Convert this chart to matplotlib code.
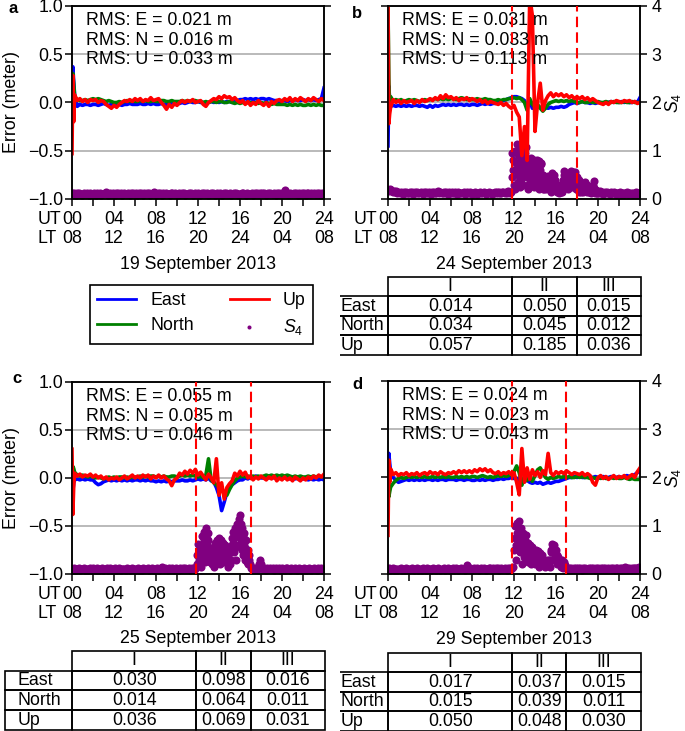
import numpy as np
import matplotlib.pyplot as plt
from matplotlib.table import Table

plt.rcParams['font.family'] = ['Liberation Sans', 'DejaVu Sans']
plt.rcParams['font.size'] = 12.8
plt.rcParams['mathtext.fontset'] = 'custom'
plt.rcParams['mathtext.rm'] = 'Liberation Sans'
plt.rcParams['mathtext.it'] = 'Liberation Sans:italic'

# sampling times (hours UT): finer at the start where the solution converges
t_err = np.concatenate(([0.0, 0.08, 0.16], np.arange(1, 97) * 0.25))
t_s4 = np.arange(241) * 0.1

ut_labels = ['00', '04', '08', '12', '16', '20', '24']
lt_labels = ['08', '12', '16', '20', '24', '04', '08']
row_names = ['East', 'North', 'Up']
col_names = ['I', 'II', 'III']

# ---- 19 September 2013 ----
east_a = [0.05, 0.37, 0.22,
          0.08, -0.04, -0.02, -0.03, -0.02, -0.02, -0.03, -0.02,
          -0.02, -0.03, -0.02, -0.01, -0.02, -0.03, -0.02, -0.02,
          -0.03, -0.02, -0.03, -0.02, -0.02, -0.01, -0.02, -0.02,
          -0.02, -0.01, -0.02, -0.02, -0.01, -0.02, -0.01, -0.02,
          -0.02, -0.01, -0.02, -0.02, -0.01, -0.01, -0.02, -0.01,
          -0.01, 0.00, -0.01, 0.00, 0.01, 0.00, 0.00, 0.01,
          0.00, 0.00, -0.01, 0.00, 0.01, 0.00, 0.01, 0.00,
          0.01, 0.00, 0.01, 0.01, 0.00, 0.01, 0.02, 0.03,
          0.03, 0.04, 0.03, 0.04, 0.03, 0.04, 0.03, 0.04,
          0.04, 0.03, 0.04, 0.03, 0.02, 0.02, 0.01, 0.02,
          0.02, 0.01, 0.02, 0.02, 0.03, 0.02, 0.02, 0.03,
          0.02, 0.03, 0.02, 0.03, 0.02, 0.03, 0.04, 0.15]
north_a = [0.10, 0.30, 0.20,
           0.06, 0.03, 0.02, 0.02, 0.03, 0.02, 0.03, 0.04,
           0.03, 0.04, 0.03, 0.02, 0.01, 0.02, 0.01, 0.00,
           0.00, 0.01, 0.00, 0.01, 0.02, 0.01, 0.02, 0.01,
           0.01, 0.02, 0.01, 0.02, 0.01, 0.01, 0.02, 0.01,
           0.01, 0.02, 0.02, 0.01, 0.01, 0.02, 0.01, 0.01,
           0.01, 0.02, 0.01, 0.02, 0.01, 0.02, 0.02, 0.01,
           0.01, 0.00, 0.01, 0.00, 0.01, 0.01, 0.00, 0.01,
           0.01, 0.00, 0.00, 0.01, 0.00, -0.01, 0.00, -0.01,
           0.00, -0.01, 0.00, 0.00, -0.01, 0.00, -0.01, 0.00,
           -0.01, 0.00, -0.01, -0.02, -0.01, -0.02, -0.02, -0.02,
           -0.02, -0.03, -0.02, -0.03, -0.02, -0.03, -0.02, -0.03,
           -0.03, -0.02, -0.03, -0.02, -0.03, -0.02, -0.03, -0.03]
up_a = [-0.53, 0.28, -0.20,
        0.08, 0.02, 0.04, 0.01, 0.03, 0.00, 0.03, 0.02,
        0.03, 0.00, 0.02, 0.01, -0.02, -0.04, -0.06, -0.03,
        -0.05, -0.02, 0.00, 0.02, 0.01, 0.03, 0.01, 0.04,
        0.02, 0.04, 0.01, 0.03, 0.02, 0.05, 0.02, 0.03,
        0.04, 0.00, -0.03, -0.07, -0.02, -0.05, -0.01, -0.03,
        0.00, 0.02, 0.00, 0.02, 0.01, 0.03, 0.00, 0.01,
        0.02, -0.02, -0.04, 0.00, 0.02, 0.04, 0.03, 0.06,
        0.04, 0.07, 0.05, 0.06, 0.03, 0.05, 0.02, 0.00,
        0.02, -0.02, 0.01, -0.03, 0.00, -0.02, 0.02, -0.01,
        -0.03, 0.00, -0.04, 0.01, -0.01, 0.02, 0.03, 0.01,
        0.04, 0.02, 0.05, 0.01, 0.04, 0.02, 0.05, 0.03,
        0.01, 0.04, 0.02, 0.05, 0.03, 0.01, 0.04, 0.02]
s4_a = [0.12, 0.10, 0.13, 0.11, 0.09, 0.12, 0.10, 0.13, 0.11, 0.10,
        0.09, 0.12, 0.10, 0.11, 0.13, 0.10, 0.08, 0.12, 0.11, 0.10,
        0.11, 0.13, 0.10, 0.09, 0.12, 0.11, 0.10, 0.13, 0.09, 0.11,
        0.10, 0.12, 0.14, 0.11, 0.09, 0.10, 0.12, 0.11, 0.10, 0.13,
        0.11, 0.09, 0.12, 0.10, 0.13, 0.11, 0.10, 0.12, 0.09, 0.11,
        0.12, 0.10, 0.11, 0.13, 0.10, 0.09, 0.12, 0.11, 0.13, 0.10,
        0.10, 0.12, 0.09, 0.11, 0.12, 0.10, 0.13, 0.11, 0.09, 0.12,
        0.11, 0.13, 0.10, 0.12, 0.09, 0.11, 0.10, 0.12, 0.14, 0.10,
        0.09, 0.11, 0.12, 0.10, 0.13, 0.11, 0.09, 0.12, 0.10, 0.11,
        0.12, 0.10, 0.11, 0.09, 0.12, 0.13, 0.10, 0.11, 0.12, 0.10,
        0.11, 0.09, 0.12, 0.10, 0.11, 0.13, 0.10, 0.12, 0.09, 0.11,
        0.10, 0.12, 0.11, 0.13, 0.10, 0.09, 0.11, 0.12, 0.10, 0.11,
        0.12, 0.10, 0.09, 0.11, 0.12, 0.10, 0.13, 0.11, 0.10, 0.12,
        0.09, 0.11, 0.13, 0.10, 0.12, 0.11, 0.09, 0.10, 0.12, 0.11,
        0.10, 0.12, 0.11, 0.09, 0.11, 0.13, 0.10, 0.12, 0.11, 0.10,
        0.12, 0.09, 0.11, 0.10, 0.12, 0.11, 0.13, 0.10, 0.09, 0.11,
        0.11, 0.10, 0.12, 0.13, 0.10, 0.11, 0.09, 0.12, 0.10, 0.11,
        0.10, 0.12, 0.09, 0.11, 0.13, 0.10, 0.12, 0.11, 0.10, 0.12,
        0.11, 0.13, 0.10, 0.12, 0.11, 0.09, 0.11, 0.12, 0.10, 0.13,
        0.10, 0.11, 0.12, 0.10, 0.09, 0.12, 0.11, 0.13, 0.10, 0.11,
        0.12, 0.10, 0.13, 0.19, 0.11, 0.12, 0.10, 0.11, 0.13, 0.10,
        0.11, 0.12, 0.10, 0.13, 0.11, 0.09, 0.12, 0.10, 0.11, 0.13,
        0.10, 0.12, 0.11, 0.09, 0.12, 0.13, 0.10, 0.11, 0.12, 0.10,
        0.12, 0.10, 0.11, 0.13, 0.10, 0.12, 0.11, 0.09, 0.12, 0.11,
        0.10]
rms_a = ['0.021', '0.016', '0.033']

# ---- 24 September 2013 ----
east_b = [-0.45, 0.17, 0.02,
          -0.04, -0.03, -0.04, -0.03, -0.04, -0.03, -0.04, -0.03,
          -0.04, -0.03, -0.03, -0.04, -0.03, -0.04, -0.05, -0.03,
          -0.05, -0.03, -0.04, -0.03, -0.02, -0.03, -0.02, -0.03,
          -0.02, -0.03, -0.02, -0.02, -0.03, -0.02, -0.03, -0.02,
          -0.02, -0.03, -0.02, -0.01, -0.02, -0.01, -0.02, -0.01,
          -0.01, 0.00, 0.01, 0.02, 0.03, 0.04, 0.05, 0.06,
          0.06, 0.05, 0.04, 0.02, -0.04, 0.02, -0.06, -0.03,
          -0.04, -0.05, -0.06, -0.05, -0.06, -0.05, -0.06, -0.05,
          -0.05, -0.04, -0.05, -0.04, -0.02, -0.01, 0.00, -0.01,
          0.00, 0.01, 0.00, 0.00, -0.01, 0.00, -0.01, 0.00,
          0.00, -0.01, 0.00, 0.00, 0.01, 0.00, 0.01, 0.00,
          0.01, 0.00, 0.01, 0.00, 0.00, 0.01, 0.00, 0.05]
north_b = [1.00, 0.25, -0.08,
           0.06, 0.01, 0.03, 0.02, 0.03, 0.01, 0.02, 0.03,
           0.02, 0.03, 0.02, 0.01, 0.02, 0.03, 0.02, 0.03,
           0.03, 0.04, 0.03, 0.04, 0.03, 0.04, 0.03, 0.04,
           0.04, 0.03, 0.04, 0.05, 0.04, 0.03, 0.04, 0.03,
           0.03, 0.04, 0.03, 0.03, 0.04, 0.03, 0.03, 0.02,
           0.02, 0.03, 0.02, 0.03, 0.03, 0.04, 0.04, 0.05,
           0.04, 0.05, 0.03, 0.00, -0.08, 0.04, -0.02, -0.05,
           -0.02, -0.06, -0.09, -0.06, -0.02, 0.00, 0.01, 0.02,
           0.01, 0.02, 0.01, 0.02, 0.01, 0.02, 0.01, 0.00,
           0.00, 0.01, 0.00, 0.00, 0.01, 0.00, 0.00, 0.01,
           0.00, 0.00, 0.01, 0.00, 0.00, 0.01, 0.00, 0.00,
           0.00, 0.01, 0.00, 0.00, 0.01, 0.00, 0.00, 0.00]
up_b = [1.10, -0.22, -0.12,
        -0.05, 0.03, 0.00, 0.02, -0.01, 0.02, 0.00, 0.01,
        0.02, -0.01, 0.02, 0.00, 0.03, 0.01, 0.02, 0.04,
        0.02, 0.05, 0.03, 0.07, 0.04, 0.08, 0.05, 0.06,
        0.03, 0.05, 0.02, 0.04, 0.03, 0.05, 0.02, 0.04,
        0.03, 0.01, 0.03, 0.00, 0.02, -0.01, 0.01, 0.00,
        -0.01, -0.02, 0.00, -0.03, -0.01, -0.04, -0.06, -0.03,
        -0.10, -0.15, -0.55, -0.25, -0.60, 1.10, 0.90, -0.30,
        0.00, 0.20, -0.08, 0.02, 0.07, 0.10, 0.06, 0.09,
        0.07, 0.09, 0.06, 0.08, 0.05, 0.07, 0.04, 0.06,
        0.04, 0.06, 0.03, 0.05, 0.02, 0.04, 0.02, 0.00,
        -0.01, -0.02, 0.00, -0.02, 0.01, 0.00, 0.02, 0.01,
        0.00, 0.02, 0.01, 0.02, 0.00, 0.01, -0.01, 0.00]
s4_b = [0.19, 0.17, 0.20, 0.18, 0.16, 0.15, 0.17, 0.14, 0.16, 0.13,
        0.14, 0.12, 0.15, 0.13, 0.11, 0.14, 0.12, 0.15, 0.13, 0.12,
        0.13, 0.15, 0.12, 0.14, 0.11, 0.13, 0.15, 0.12, 0.14, 0.13,
        0.12, 0.14, 0.13, 0.11, 0.14, 0.12, 0.15, 0.13, 0.12, 0.14,
        0.13, 0.11, 0.14, 0.12, 0.15, 0.13, 0.12, 0.14, 0.16, 0.13,
        0.14, 0.12, 0.13, 0.15, 0.12, 0.14, 0.13, 0.11, 0.14, 0.12,
        0.12, 0.14, 0.13, 0.12, 0.15, 0.13, 0.11, 0.14, 0.12, 0.13,
        0.13, 0.12, 0.14, 0.11, 0.13, 0.15, 0.12, 0.13, 0.14, 0.12,
        0.11, 0.13, 0.12, 0.14, 0.12, 0.11, 0.13, 0.12, 0.14, 0.13,
        0.12, 0.14, 0.13, 0.11, 0.13, 0.12, 0.14, 0.12, 0.13, 0.11,
        0.13, 0.12, 0.14, 0.13, 0.15, 0.12, 0.14, 0.13, 0.12, 0.15,
        0.14, 0.12, 0.15, 0.13, 0.16, 0.14, 0.13, 0.15, 0.95, 0.60,
        0.30, 1.00, 0.75, 1.14, 0.50, 0.90, 1.05, 0.40, 0.95, 0.70,
        0.85, 1.08, 0.55, 0.30, 0.80, 0.60, 0.85, 0.45, 0.75, 0.25,
        0.65, 0.50, 0.80, 0.35, 0.78, 0.60, 0.72, 0.30, 0.50, 0.20,
        0.45, 0.30, 0.48, 0.25, 0.40, 0.15, 0.53, 0.35, 0.50, 0.20,
        0.30, 0.15, 0.25, 0.12, 0.20, 0.28, 0.15, 0.40, 0.57, 0.30,
        0.50, 0.20, 0.45, 0.35, 0.57, 0.25, 0.55, 0.40, 0.56, 0.20,
        0.45, 0.30, 0.15, 0.35, 0.20, 0.30, 0.15, 0.25, 0.36, 0.20,
        0.30, 0.15, 0.20, 0.12, 0.19, 0.14, 0.37, 0.13, 0.18, 0.12,
        0.15, 0.13, 0.16, 0.12, 0.14, 0.11, 0.13, 0.15, 0.12, 0.14,
        0.13, 0.11, 0.14, 0.12, 0.13, 0.15, 0.12, 0.11, 0.13, 0.12,
        0.12, 0.14, 0.11, 0.13, 0.12, 0.10, 0.13, 0.12, 0.14, 0.11,
        0.13, 0.12, 0.10, 0.13, 0.11, 0.12, 0.14, 0.11, 0.12, 0.13,
        0.12]
# extra S4 samples inside the scintillation window, 11.85 h .. 19.95 h
t_s4x_b = 11.85 + np.arange(82) * 0.1
s4x_b = [0.45, 0.80, 0.20, 0.60, 0.95, 0.35, 0.70, 0.25, 0.80, 0.60, 0.30, 0.50,
         0.95, 0.70, 0.45, 0.20, 0.65, 0.35, 0.70, 0.55, 0.40, 0.80,
         0.30, 0.65, 0.55, 0.20, 0.45, 0.75, 0.50, 0.20, 0.35, 0.25,
         0.20, 0.40, 0.35, 0.20, 0.30, 0.40, 0.25, 0.45, 0.30, 0.40,
         0.22, 0.30, 0.18, 0.25, 0.15, 0.20, 0.30, 0.50, 0.45, 0.35,
         0.30, 0.40, 0.25, 0.50, 0.40, 0.35, 0.48, 0.30, 0.45, 0.35,
         0.20, 0.40, 0.25, 0.15, 0.28, 0.20, 0.30, 0.18, 0.28, 0.15,
         0.22, 0.25, 0.15, 0.17, 0.25, 0.30, 0.22, 0.15, 0.16, 0.13]
rms_b = ['0.031', '0.033', '0.113']
bounds_b = [11.85, 18.0]
table_b = [['0.014', '0.050', '0.015'],
           ['0.034', '0.045', '0.012'],
           ['0.057', '0.185', '0.036']]

# ---- 25 September 2013 ----
east_c = [-0.05, -0.15, -0.05,
          -0.02, -0.01, -0.02, -0.01, -0.02, -0.01, -0.02, -0.02,
          -0.05, -0.07, -0.06, -0.04, -0.03, -0.02, -0.03, -0.02,
          -0.03, -0.02, -0.03, -0.02, -0.03, -0.02, -0.03, -0.02,
          -0.02, -0.03, -0.02, -0.03, -0.02, -0.03, -0.03, -0.04,
          -0.03, -0.04, -0.03, -0.04, -0.03, -0.04, -0.03, -0.03,
          -0.03, -0.02, -0.03, -0.03, -0.02, -0.03, -0.02, -0.01,
          -0.02, -0.01, -0.02, 0.00, -0.03, -0.04, -0.10, -0.18,
          -0.34, -0.25, -0.15, -0.10, -0.07, -0.05, -0.03, -0.02,
          -0.02, 0.00, -0.01, 0.01, 0.00, 0.02, 0.01, 0.00,
          0.00, 0.01, 0.00, 0.01, 0.00, 0.01, 0.00, 0.01,
          0.00, 0.00, -0.01, 0.00, -0.01, 0.00, -0.01, -0.01,
          -0.01, -0.02, -0.01, -0.02, -0.01, -0.02, -0.01, -0.02]
north_c = [0.05, 0.12, 0.10,
           0.06, 0.03, 0.02, 0.03, 0.02, 0.01, 0.02, 0.01,
           0.00, 0.01, 0.00, -0.01, 0.00, 0.01, 0.00, 0.01,
           0.00, 0.01, 0.01, 0.00, 0.01, 0.00, 0.01, 0.01,
           0.01, 0.02, 0.01, 0.02, 0.01, 0.02, 0.02, 0.01,
           0.02, 0.01, 0.02, 0.01, 0.01, 0.02, 0.02, 0.01,
           0.02, 0.03, 0.02, 0.03, 0.02, 0.03, 0.02, 0.01,
           0.02, 0.00, 0.03, 0.20, -0.02, -0.05, -0.07, -0.10,
           -0.12, -0.15, -0.18, -0.12, -0.07, -0.03, 0.00, 0.01,
           0.02, 0.01, 0.02, 0.01, 0.02, 0.01, 0.02, 0.01,
           0.02, 0.03, 0.02, 0.03, 0.02, 0.03, 0.02, 0.03,
           0.02, 0.03, 0.02, 0.01, 0.02, 0.01, 0.02, 0.01,
           0.01, 0.02, 0.01, 0.02, 0.01, 0.02, 0.01, 0.02]
up_c = [0.30, -0.38, -0.10,
        0.05, 0.02, 0.04, 0.01, 0.03, 0.02, 0.04, 0.01,
        0.03, 0.00, 0.02, -0.01, 0.01, -0.02, 0.00, -0.01,
        0.01, -0.02, 0.00, 0.02, -0.01, 0.01, 0.03, 0.00,
        0.02, 0.00, 0.03, 0.01, 0.03, -0.01, 0.02, 0.00,
        0.03, 0.00, 0.02, -0.01, -0.03, -0.08, -0.02, 0.00,
        0.05, 0.03, 0.07, 0.04, 0.08, 0.05, 0.09, 0.03,
        0.06, 0.02, -0.02, 0.04, 0.00, -0.05, 0.20, -0.18,
        -0.05, -0.22, -0.10, -0.06, -0.03, 0.05, 0.02, 0.07,
        0.03, 0.06, 0.00, 0.02, -0.02, 0.01, -0.01, 0.02,
        0.00, -0.02, 0.01, -0.01, 0.02, -0.03, 0.00, -0.02,
        0.01, -0.02, 0.00, -0.03, 0.01, -0.01, -0.03, 0.00,
        -0.02, 0.01, -0.01, 0.02, 0.00, 0.03, 0.01, 0.04]
s4_c = [0.11, 0.09, 0.12, 0.10, 0.08, 0.11, 0.10, 0.12, 0.09, 0.10,
        0.10, 0.12, 0.09, 0.11, 0.10, 0.08, 0.11, 0.12, 0.10, 0.09,
        0.12, 0.10, 0.11, 0.09, 0.12, 0.10, 0.08, 0.11, 0.10, 0.12,
        0.09, 0.11, 0.10, 0.12, 0.09, 0.11, 0.13, 0.10, 0.09, 0.11,
        0.10, 0.12, 0.09, 0.11, 0.10, 0.12, 0.10, 0.09, 0.11, 0.10,
        0.11, 0.09, 0.12, 0.10, 0.11, 0.09, 0.10, 0.12, 0.10, 0.11,
        0.09, 0.11, 0.10, 0.12, 0.09, 0.10, 0.11, 0.09, 0.12, 0.10,
        0.11, 0.10, 0.12, 0.09, 0.11, 0.10, 0.12, 0.10, 0.09, 0.11,
        0.10, 0.12, 0.11, 0.09, 0.10, 0.12, 0.14, 0.11, 0.10, 0.12,
        0.11, 0.09, 0.12, 0.10, 0.11, 0.12, 0.10, 0.09, 0.11, 0.12,
        0.10, 0.11, 0.09, 0.12, 0.10, 0.11, 0.13, 0.10, 0.12, 0.11,
        0.10, 0.12, 0.09, 0.11, 0.13, 0.10, 0.12, 0.11, 0.14, 0.20,
        0.63, 0.30, 0.55, 0.15, 0.80, 0.45, 0.88, 0.25, 0.95, 0.60,
        0.85, 0.35, 0.55, 0.20, 0.40, 0.15, 0.65, 0.30, 0.60, 0.45,
        0.75, 0.20, 0.70, 0.40, 0.65, 0.25, 0.60, 0.35, 0.55, 0.15,
        0.50, 0.30, 0.60, 0.88, 0.45, 0.95, 0.30, 1.05, 0.60, 1.15,
        1.22, 0.70, 0.95, 0.40, 0.85, 0.55, 0.70, 0.36, 0.20, 0.30,
        0.12, 0.10, 0.13, 0.11, 0.12, 0.10, 0.13, 0.11, 0.20, 0.29,
        0.20, 0.12, 0.10, 0.13, 0.11, 0.09, 0.12, 0.10, 0.11, 0.13,
        0.10, 0.12, 0.09, 0.11, 0.13, 0.10, 0.11, 0.12, 0.09, 0.11,
        0.12, 0.10, 0.11, 0.09, 0.12, 0.13, 0.10, 0.11, 0.09, 0.12,
        0.10, 0.11, 0.13, 0.10, 0.09, 0.11, 0.12, 0.10, 0.11, 0.09,
        0.11, 0.12, 0.10, 0.09, 0.11, 0.10, 0.12, 0.11, 0.09, 0.10,
        0.12, 0.10, 0.11, 0.09, 0.12, 0.11, 0.10, 0.12, 0.11, 0.09,
        0.11]
t_s4x_c = 11.95 + np.arange(51) * 0.1
s4x_c = [0.40, 0.45, 0.20, 0.40, 0.60, 0.30, 0.70, 0.50, 0.75, 0.40, 0.70,
         0.55, 0.25, 0.40, 0.30, 0.25, 0.45, 0.50, 0.20, 0.70, 0.55,
         0.40, 0.55, 0.30, 0.50, 0.45, 0.40, 0.50, 0.25, 0.40, 0.30,
         0.20, 0.45, 0.75, 0.65, 0.75, 0.55, 0.85, 0.80, 0.95, 0.90,
         1.05, 0.50, 0.80, 0.60, 0.30, 0.45, 0.25, 0.50, 0.40, 0.20]
rms_c = ['0.055', '0.035', '0.046']
bounds_c = [11.85, 17.0]
table_c = [['0.030', '0.098', '0.016'],
           ['0.014', '0.064', '0.011'],
           ['0.036', '0.069', '0.031']]

# ---- 29 September 2013 ----
east_d = [0.05, 0.25, 0.15,
          0.06, 0.00, -0.03, -0.05, -0.04, -0.03, -0.02, -0.03,
          -0.02, -0.03, -0.02, -0.03, -0.02, -0.03, -0.02, -0.02,
          -0.03, -0.02, -0.03, -0.02, -0.02, -0.03, -0.02, -0.02,
          -0.02, -0.03, -0.02, -0.02, -0.03, -0.02, -0.02, -0.03,
          -0.03, -0.02, -0.03, -0.02, -0.03, -0.02, -0.02, -0.03,
          -0.02, -0.02, -0.01, -0.02, -0.01, -0.01, 0.00, -0.01,
          -0.01, -0.02, -0.03, -0.04, -0.03, -0.05, -0.06, -0.05,
          -0.06, -0.05, -0.07, -0.06, -0.05, -0.06, -0.05, -0.04,
          -0.04, -0.03, -0.02, -0.01, 0.00, 0.00, 0.01, 0.00,
          0.01, 0.00, 0.00, 0.01, 0.00, 0.00, 0.01, 0.00,
          0.00, 0.01, 0.00, 0.00, 0.01, 0.00, 0.00, 0.01,
          0.00, 0.01, 0.02, 0.01, 0.02, 0.03, 0.05, 0.08]
north_d = [0.00, -0.20, -0.15,
           -0.10, -0.06, -0.03, -0.01, 0.00, -0.01, 0.00, 0.01,
           0.00, 0.01, 0.00, 0.01, 0.00, 0.01, 0.00, 0.00,
           0.01, 0.00, 0.01, 0.00, 0.01, 0.00, 0.01, 0.00,
           0.00, 0.01, 0.00, 0.01, 0.00, 0.01, 0.00, 0.01,
           0.01, 0.00, 0.01, 0.02, 0.01, 0.00, 0.01, 0.00,
           0.01, 0.02, 0.01, 0.02, 0.01, 0.02, 0.03, 0.06,
           0.12, 0.05, -0.08, 0.02, -0.03, 0.00, -0.04, 0.02,
           0.08, 0.10, 0.05, 0.00, -0.02, 0.00, -0.01, 0.00,
           0.01, 0.00, 0.01, 0.00, 0.01, 0.00, 0.00, 0.01,
           0.00, 0.01, 0.00, 0.00, -0.01, 0.00, -0.01, 0.00,
           -0.01, 0.00, -0.01, -0.01, 0.00, -0.01, 0.00, -0.01,
           -0.01, 0.00, -0.01, -0.02, -0.01, -0.02, -0.02, -0.02]
up_d = [-0.60, 0.18, -0.05,
        0.09, 0.03, 0.05, 0.02, 0.04, 0.03, 0.05, 0.02,
        0.04, 0.03, 0.05, 0.02, 0.04, 0.05, 0.03, 0.06,
        0.04, 0.05, 0.03, 0.06, 0.04, 0.03, 0.05, 0.04,
        0.06, 0.04, 0.07, 0.05, 0.07, 0.05, 0.07, 0.05,
        0.08, 0.06, 0.09, 0.07, 0.09, 0.06, 0.08, 0.05,
        0.04, 0.06, 0.03, 0.05, 0.04, 0.06, 0.03, 0.05,
        -0.05, -0.18, 0.30, -0.05, 0.10, -0.02, 0.08, 0.02,
        0.06, 0.00, 0.07, 0.03, 0.25, 0.05, 0.02, 0.06,
        0.04, 0.06, 0.04, 0.07, 0.05, 0.03, 0.05, 0.04,
        0.03, 0.05, 0.02, 0.04, 0.02, -0.05, -0.08, 0.00,
        0.02, -0.01, 0.01, -0.02, 0.00, 0.02, -0.01, 0.01,
        0.00, 0.02, -0.01, 0.01, 0.03, 0.00, 0.06, 0.10]
s4_d = [0.10, 0.12, 0.09, 0.11, 0.10, 0.12, 0.08, 0.11, 0.10, 0.09,
        0.11, 0.10, 0.12, 0.09, 0.11, 0.10, 0.08, 0.12, 0.10, 0.11,
        0.09, 0.11, 0.10, 0.12, 0.10, 0.09, 0.11, 0.10, 0.12, 0.09,
        0.11, 0.10, 0.09, 0.12, 0.10, 0.11, 0.09, 0.12, 0.10, 0.11,
        0.10, 0.09, 0.11, 0.12, 0.10, 0.11, 0.09, 0.10, 0.12, 0.11,
        0.09, 0.11, 0.10, 0.12, 0.09, 0.11, 0.10, 0.12, 0.11, 0.09,
        0.11, 0.10, 0.12, 0.09, 0.11, 0.12, 0.10, 0.09, 0.11, 0.10,
        0.12, 0.10, 0.11, 0.09, 0.12, 0.19, 0.10, 0.11, 0.12, 0.10,
        0.09, 0.11, 0.12, 0.10, 0.11, 0.13, 0.10, 0.09, 0.11, 0.12,
        0.10, 0.12, 0.11, 0.09, 0.11, 0.10, 0.12, 0.13, 0.10, 0.11,
        0.12, 0.10, 0.11, 0.13, 0.10, 0.12, 0.09, 0.11, 0.12, 0.10,
        0.10, 0.12, 0.11, 0.09, 0.12, 0.10, 0.13, 0.11, 0.12, 0.14,
        0.50, 1.00, 0.30, 1.05, 0.70, 1.10, 0.45, 0.95, 0.20, 0.85,
        0.55, 0.80, 0.30, 0.65, 0.40, 0.60, 0.20, 0.55, 0.35, 0.45,
        0.20, 0.50, 0.30, 0.48, 0.15, 0.43, 0.25, 0.40, 0.20, 0.30,
        0.15, 0.28, 0.18, 0.25, 0.15, 0.45, 0.63, 0.30, 0.60, 0.40,
        0.50, 0.20, 0.35, 0.25, 0.30, 0.15, 0.28, 0.12, 0.25, 0.15,
        0.12, 0.10, 0.13, 0.11, 0.12, 0.10, 0.11, 0.13, 0.10, 0.12,
        0.11, 0.13, 0.10, 0.12, 0.11, 0.09, 0.12, 0.10, 0.13, 0.11,
        0.10, 0.12, 0.11, 0.13, 0.10, 0.12, 0.11, 0.09, 0.12, 0.10,
        0.13, 0.11, 0.10, 0.12, 0.11, 0.13, 0.10, 0.12, 0.11, 0.10,
        0.12, 0.11, 0.13, 0.10, 0.12, 0.11, 0.09, 0.12, 0.13, 0.11,
        0.10, 0.12, 0.11, 0.13, 0.10, 0.12, 0.14, 0.11, 0.12, 0.10,
        0.13, 0.11, 0.12, 0.10, 0.13, 0.12, 0.11, 0.13, 0.12, 0.14,
        0.12]
t_s4x_d = 12.05 + np.arange(50) * 0.1
s4x_d = [0.75, 0.60, 0.85, 0.50, 0.90, 0.75, 0.65, 0.50, 0.60, 0.35,
         0.70, 0.45, 0.50, 0.25, 0.50, 0.35, 0.40, 0.25, 0.30, 0.38,
         0.35, 0.25, 0.38, 0.30, 0.35, 0.20, 0.32, 0.30, 0.25, 0.22,
         0.20, 0.22, 0.20, 0.30, 0.30, 0.50, 0.45, 0.55, 0.50, 0.30,
         0.40, 0.28, 0.30, 0.20, 0.22, 0.25, 0.18, 0.20, 0.18, 0.12]
rms_d = ['0.024', '0.023', '0.043']
bounds_d = [11.85, 17.0]
table_d = [['0.017', '0.037', '0.015'],
           ['0.015', '0.039', '0.011'],
           ['0.050', '0.048', '0.030']]


fig = plt.figure(figsize=(6.85, 7.31), dpi=100)
S4_COLOR = '#800080'


def panel(rect, east, north, up, s4, s4x, rms, date, bounds, left):
    ax = fig.add_axes(rect)
    ax2 = ax.twinx()
    ax.set_zorder(ax2.get_zorder() + 1)
    ax.patch.set_visible(False)

    ax2.set_axisbelow(True)
    ax2.yaxis.grid(True, color='#b4b4b4', lw=1.3)
    ax2.scatter(t_s4, s4, s=34, color=S4_COLOR, lw=0, label='$S_4$')
    if s4x is not None:
        ax2.scatter(s4x[0], s4x[1], s=34, color=S4_COLOR, lw=0)
    ax2.set_ylim(0, 4)
    ax2.set_yticks([0, 1, 2, 3, 4])

    ax.plot(t_err, east, color='#0000ff', lw=2.6, label='East')
    ax.plot(t_err, north, color='#008000', lw=2.6, label='North')
    ax.plot(t_err, up, color='#ff0000', lw=2.6, label='Up')
    for b in bounds:
        ax.axvline(b, color='#ff0000', lw=1.5, ls=(0, (5, 2.5)), zorder=4)

    ax.set_xlim(0, 24)
    ax.set_ylim(-1, 1)
    ax.set_yticks([-1, -0.5, 0, 0.5, 1])
    ax.set_xticks(np.arange(0, 25, 2))
    labs = []
    for i in range(13):
        labs.append(ut_labels[i // 2] + '\n' + lt_labels[i // 2] if i % 2 == 0 else '')
    ax.set_xticklabels(labs)
    ax.annotate('UT\nLT', xy=(0, 0), xycoords='axes fraction',
                xytext=(-24.5, -8.3), textcoords='offset points',
                ha='left', va='top')

    for a in (ax, ax2):
        for sp in a.spines.values():
            sp.set_linewidth(1.1)
    ax.tick_params(axis='both', direction='out', length=4.8, width=1.1)
    ax.tick_params(axis='x', pad=3.5)
    ax.tick_params(axis='y', pad=1.5, labelleft=left)
    ax2.tick_params(axis='y', direction='out', length=4.8, width=1.1,
                    pad=3.5, labelright=not left)

    if left:
        ax.set_ylabel('Error (meter)')
        ax.yaxis.set_label_coords(-0.208, 0.5)
    else:
        ax2.set_ylabel('$S_4$', rotation=90)
        ax2.yaxis.set_label_coords(1.09, 0.5)

    ax.set_xlabel(date)
    ax.xaxis.set_label_coords(0.5, -0.293)

    txt = '\n'.join(['RMS: %s = %s m' % (k, v) for k, v in zip('ENU', rms)])
    ax.text(0.055, 0.968, txt, transform=ax.transAxes, va='top', ha='left')
    return ax, ax2


def add_table(ax, vals, bounds, x0, y0, h, pad, left_edge):
    w_lab = -x0
    widths = [w_lab, bounds[0] / 24, (bounds[1] - bounds[0]) / 24,
              (24 - bounds[1]) / 24 + 0.004]
    tab = Table(ax, bbox=[x0, y0, sum(widths), h])
    cells = [[''] + col_names] + [[rn] + row for rn, row in zip(row_names, vals)]
    for r in range(4):
        for c in range(4):
            cell = tab.add_cell(r, c, width=widths[c], height=0.25,
                                text=cells[r][c], loc='left' if c == 0 else 'center',
                                edgecolor='black', facecolor='none')
            cell.set_linewidth(1.2)
            if c == 0:
                cell.PAD = pad
                if r > 0 and not left_edge:
                    cell.visible_edges = 'TRB'
    tab[0, 0].visible_edges = 'open'
    tab.auto_set_font_size(False)
    tab.set_fontsize(12.8)
    tab.set_clip_on(False)
    ax.add_table(tab)


ax_a, s_a = panel([0.1051, 0.7278, 0.3679, 0.2640], east_a, north_a, up_a, s4_a,
                  None, rms_a, '19 September 2013', [], True)
ax_b, s_b = panel([0.5664, 0.7278, 0.3679, 0.2640], east_b, north_b, up_b, s4_b,
                  (t_s4x_b, s4x_b), rms_b, '24 September 2013', bounds_b, False)
ax_c, s_c = panel([0.1051, 0.2148, 0.3679, 0.2627], east_c, north_c, up_c, s4_c,
                  (t_s4x_c, s4x_c), rms_c, '25 September 2013', bounds_c, True)
ax_d, s_d = panel([0.5664, 0.2148, 0.3679, 0.2640], east_d, north_d, up_d, s4_d,
                  (t_s4x_d, s4x_d), rms_d, '29 September 2013', bounds_d, False)

add_table(ax_b, table_b, bounds_b, -0.1905, -0.808, 0.404, 0.02, False)
add_table(ax_c, table_c, bounds_c, -0.2659, -0.8125, 0.4115, 0.19, True)
add_table(ax_d, table_d, bounds_d, -0.1905, -0.8135, 0.4042, 0.02, False)

handles = ax_a.get_lines()[:3] + [s_a.collections[0]]
leg = fig.legend(handles, ['East', 'North', 'Up', '$S_4$'], loc='center',
                 bbox_to_anchor=(0.294, 0.5698), ncol=2, fancybox=False,
                 edgecolor='black', framealpha=1, handlelength=2.2,
                 handletextpad=0.8, columnspacing=2.0, borderpad=0.4,
                 labelspacing=0.45, markerscale=0.5)
leg.get_frame().set_linewidth(1.2)
for ln in leg.get_lines():
    ln.set_linewidth(2.0)

for letter, x, y in [('a', 0.012, 0.9822), ('b', 0.514, 0.9754),
                     ('c', 0.018, 0.476), ('d', 0.515, 0.468)]:
    fig.text(x, y, letter, fontweight='bold', fontsize=12, va='baseline')

fig.savefig('out.png', dpi=100)
